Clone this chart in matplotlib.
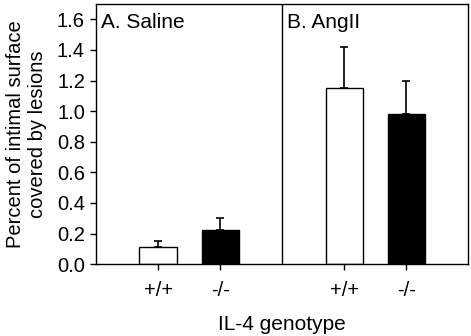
import numpy as np
import matplotlib
matplotlib.use('Agg')
import matplotlib.pyplot as plt

plt.rcParams['font.family'] = ['Liberation Sans', 'DejaVu Sans']

# data
genotypes = ['+/+', '-/-', '+/+', '-/-']
positions = [1, 2, 4, 5]
means = [0.11, 0.22, 1.15, 0.98]
sems = [0.04, 0.08, 0.27, 0.22]
colors = ['white', 'black', 'white', 'black']
panels = ['A. Saline', 'B. AngII']

fig = plt.figure(figsize=(4.71, 3.36), dpi=100)
ax = fig.add_axes([0.204, 0.214, 0.790, 0.774])

ax.bar(positions, means, width=0.6, color=colors, edgecolor='black', linewidth=1.0, zorder=2)
ax.errorbar(positions, means, yerr=[np.zeros(len(sems)), sems], fmt='none',
            ecolor='black', elinewidth=1.2, capsize=3, capthick=1.2, zorder=1)

ax.axvline(3, color='black', linewidth=1.0)

ax.set_xlim(0, 6)
ax.set_ylim(0, 1.7)
ax.set_yticks(np.arange(0, 1.61, 0.2))
ax.set_yticklabels(['%.1f' % v for v in np.arange(0, 1.61, 0.2)], fontsize=14.5)
ax.set_xticks(positions)
ax.set_xticklabels(genotypes, fontsize=14.5)
ax.tick_params(axis='both', direction='out', length=4, width=1)
ax.tick_params(axis='x', pad=8)
ax.tick_params(axis='y', pad=4)

for s in ax.spines.values():
    s.set_linewidth(1.0)

ax.text(0.08, 1.58, panels[0], fontsize=15, va='center', ha='left')
ax.text(3.08, 1.58, panels[1], fontsize=15, va='center', ha='left')

ax.set_xlabel('IL-4 genotype', fontsize=15, labelpad=11)
ax.set_ylabel('Percent of intimal surface\ncovered by lesions', fontsize=14.5, labelpad=7,
              linespacing=1.2)

fig.savefig('out.png', dpi=100)
